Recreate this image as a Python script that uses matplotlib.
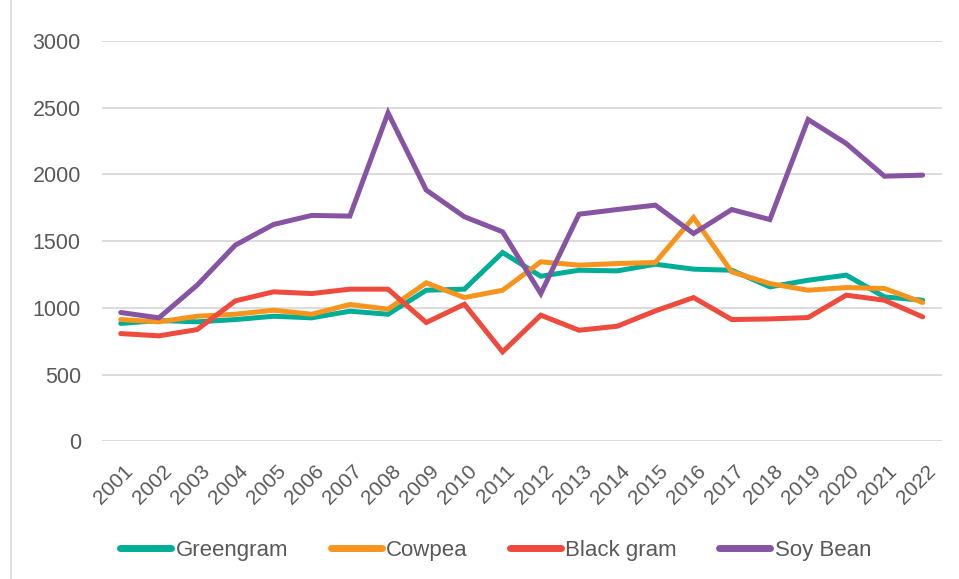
import matplotlib
matplotlib.use('Agg')
import matplotlib.pyplot as plt
from matplotlib.lines import Line2D
from matplotlib.transforms import ScaledTranslation

plt.rcParams['font.family'] = ['Liberation Sans', 'DejaVu Sans']

years = [str(y) for y in range(2001, 2023)]

greengram = [883, 905, 895, 912, 937, 925, 975, 952, 1132, 1140, 1415,
             1237, 1282, 1277, 1327, 1290, 1282, 1157, 1207, 1245, 1082, 1057]
cowpea = [912, 895, 937, 952, 982, 952, 1025, 990, 1187, 1077, 1132,
          1345, 1320, 1332, 1340, 1677, 1270, 1182, 1132, 1152, 1145, 1040]
black_gram = [807, 790, 837, 1052, 1120, 1107, 1140, 1140, 890, 1027, 670,
              945, 832, 862, 977, 1077, 912, 917, 927, 1095, 1057, 932]
soy_bean = [965, 925, 1170, 1470, 1625, 1693, 1688, 2462, 1883, 1683, 1570,
            1107, 1702, 1737, 1770, 1557, 1737, 1662, 2412, 2232, 1987, 1995]

series = [
    ('Greengram', greengram, '#00AE98'),
    ('Cowpea', cowpea, '#F7941D'),
    ('Black gram', black_gram, '#EE4A3D'),
    ('Soy Bean', soy_bean, '#8753A3'),
]

fig = plt.figure(figsize=(9.59, 5.79), dpi=100)
ax = fig.add_axes([0.106, 0.238, 0.876, 0.691])

x = list(range(len(years)))
for name, vals, col in series:
    ax.plot(x, vals, color=col, lw=3.6, label=name, solid_joinstyle='miter',
            solid_capstyle='round')

ax.set_xlim(-0.5, len(years) - 0.5)
ax.set_ylim(0, 3000)
ax.set_yticks(range(0, 3001, 500))
ax.set_xticks(x)
ax.set_xticklabels(years, rotation=45, ha='right', rotation_mode='anchor')
ax.tick_params(axis='x', length=0, pad=13, labelsize=15, colors='#595959')
ax.tick_params(axis='y', length=0, pad=15, labelsize=15.5, colors='#595959')
shift = ScaledTranslation(3 / 100, -2 / 100, fig.dpi_scale_trans)
for lbl in ax.get_xticklabels():
    lbl.set_transform(lbl.get_transform() + shift)
ax.grid(axis='y', color='#D9D9D9', lw=1.3)
ax.set_axisbelow(True)
for s in ax.spines.values():
    s.set_visible(False)

# chart frame edge on the left
fig.add_artist(Line2D([0.011, 0.011], [0, 1], transform=fig.transFigure,
                      color='#D9D9D9', lw=1.2))

leg = fig.legend(loc='center', bbox_to_anchor=(0.517, 0.05), ncol=4,
                 frameon=False, fontsize=16, handlelength=2.3,
                 handletextpad=0.2, columnspacing=1.9)
for t in leg.get_texts():
    t.set_color('#595959')
for h in leg.get_lines():
    h.set_linewidth(5)
    h.set_solid_capstyle('round')

fig.savefig('out.png', dpi=100)
